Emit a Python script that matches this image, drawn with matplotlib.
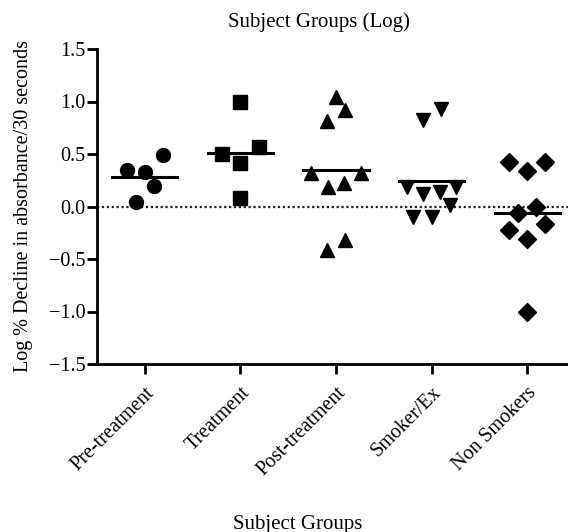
import matplotlib
matplotlib.use('Agg')
import matplotlib.pyplot as plt
import numpy as np

# Values (log % decline)
groups = ['Pre-treatment', 'Treatment', 'Post-treatment', 'Smoker/Ex', 'Non Smokers']
pre_treatment = [0.35, 0.33, 0.49, 0.20, 0.04]
treatment = [1.00, 0.50, 0.57, 0.41, 0.08]
post_treatment = [1.04, 0.92, 0.81, 0.32, 0.32, 0.22, 0.19, -0.32, -0.41]
smoker_ex = [0.93, 0.82, 0.19, 0.14, 0.12, 0.19, 0.01, -0.10, -0.10]
non_smokers = [0.42, 0.34, 0.42, 0.00, -0.06, -0.17, -0.22, -0.31, -1.00]
yticks = [-1.5, -1.0, -0.5, 0.0, 0.5, 1.0, 1.5]

series = [pre_treatment, treatment, post_treatment, smoker_ex, non_smokers]
markers = ['o', 's', '^', 'v', 'D']
sizes = [10, 9.5, 10.5, 10.5, 9]

W, H = 568, 532
plt.rcParams['font.family'] = ['Liberation Serif', 'DejaVu Serif']

fig = plt.figure(figsize=(W / 100, H / 100), dpi=100)
ax = fig.add_axes([97 / W, 1 - 364 / H, 478 / W, 315 / H])
ax.set_xlim(-0.5, 4.5)
ax.set_ylim(-1.5, 1.5)


def scatter_offsets(values, row_h=0.165, step=0.19, max_span=0.52):
    """Prism-like column scatter: group close values into rows, spread each row."""
    values = np.asarray(values)
    order = np.argsort(values, kind='stable')
    rows, cur = [], [order[0]]
    for i in order[1:]:
        if values[i] - values[cur[0]] > row_h:
            rows.append(cur)
            cur = [i]
        else:
            cur.append(i)
    rows.append(cur)
    offs = np.zeros(len(values))
    for row in rows:
        n = len(row)
        if n == 1:
            continue
        d = min(step, max_span / (n - 1))
        slots = (np.arange(n) - (n - 1) / 2) * d
        slots = sorted(slots, key=lambda s: (round(abs(s), 6), s))
        for idx, s in zip(row, slots):
            offs[idx] = s
    return offs


ax.axhline(0, color='#222222', lw=1.6, ls=(0, (1, 1.2)), zorder=1)

for k, vals in enumerate(series):
    vals = np.array(vals)
    offs = scatter_offsets(vals)
    ax.plot(k + offs, vals, ls='none', marker=markers[k], ms=sizes[k],
            color='black', mec='black', zorder=3)
    m = vals.mean()
    ax.plot([k - 0.34, k + 0.34], [m, m], color='black', lw=2.2, zorder=2)

ax.spines['top'].set_visible(False)
ax.spines['right'].set_visible(False)
ax.spines['left'].set_linewidth(2)
ax.spines['bottom'].set_linewidth(2)

ax.set_yticks(yticks)
ax.set_yticklabels([f'{t:.1f}'.replace('-', '\u2212') for t in yticks])
ax.set_xticks(range(len(groups)))
ax.set_xticklabels(groups, rotation=45, ha='right', rotation_mode='anchor')
ax.tick_params(axis='both', width=2, length=7, labelsize=14.5, direction='out')
ax.tick_params(axis='y', pad=1.5)
ax.tick_params(axis='x', pad=7)

ax.set_ylabel('Log % Decline in absorbance/30 seconds', fontsize=14.5)
ax.yaxis.set_label_coords(-0.134, 0.5)

fig.text(319 / W, 1 - 22 / H, 'Subject Groups (Log)', ha='center', va='center', fontsize=15)
fig.text(298 / W, 1 - 524 / H, 'Subject Groups', ha='center', va='center', fontsize=15)

fig.savefig('out.png', dpi=100, facecolor='white')
